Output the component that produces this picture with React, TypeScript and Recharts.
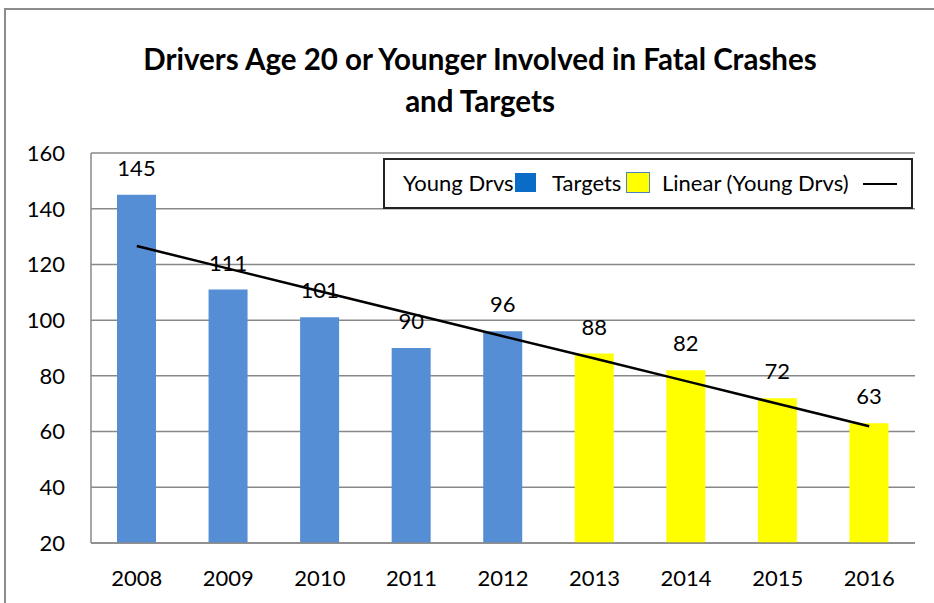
import React from 'react';
import { ComposedChart, Bar, Line, XAxis, YAxis, CartesianGrid, LabelList } from 'recharts';

const years = ['2008', '2009', '2010', '2011', '2012', '2013', '2014', '2015', '2016'];
const youngDrvs = [145, 111, 101, 90, 96, null, null, null, null];
const targets = [null, null, null, null, null, 88, 82, 72, 63];
// trend line values (Excel linear trendline)
const trendValues = [126.6, 118.5, 110.4, 102.3, 94.2, 86.2, 78.1, 70.0, 61.9];
const yTicks = [20, 40, 60, 80, 100, 120, 140, 160];

const titleLines = ['Drivers Age 20 or Younger Involved in Fatal Crashes', 'and Targets'];

const FONT = 'Lato, "Open Sans", sans-serif';
const BAR_BLUE = '#558ED5';
const LEGEND_BLUE = '#0A6CC6';
const YELLOW = '#FFFF00';
const GRID = '#888888';

const data = years.map((year, i) => ({
  year,
  youngDrvs: youngDrvs[i],
  targets: targets[i],
  trend: trendValues[i],
}));

const Legend: React.FC = () => (
  <div
    style={{
      position: 'absolute',
      left: 383,
      top: 158,
      width: 526,
      height: 47,
      border: '2px solid #222',
      background: '#fff',
      fontFamily: FONT,
      fontSize: 22,
      color: '#000',
    }}
  >
    <span style={{ position: 'absolute', left: 18, top: 9 }}>Young Drvs</span>
    <span style={{ position: 'absolute', left: 130, top: 13, width: 21, height: 19, background: LEGEND_BLUE }} />
    <span style={{ position: 'absolute', left: 167, top: 9 }}>Targets</span>
    <span
      style={{
        position: 'absolute',
        left: 241,
        top: 12,
        width: 22,
        height: 19,
        background: YELLOW,
        border: '1.5px solid #4F81BD',
      }}
    />
    <span style={{ position: 'absolute', left: 277, top: 9 }}>Linear (Young Drvs)</span>
    <span style={{ position: 'absolute', left: 478, top: 23, width: 34, height: 2, background: '#000' }} />
  </div>
);

const App: React.FC = () => {
  return (
    <div style={{ position: 'absolute', left: 0, top: 0, width: 934, height: 603, background: '#fff' }}>
      <div
        style={{
          position: 'absolute',
          left: 4,
          top: 8,
          width: 940,
          height: 600,
          borderLeft: '2px solid #8c8c8c',
          borderTop: '2px solid #8c8c8c',
        }}
      />
      <div
        style={{
          position: 'absolute',
          left: 0,
          top: 38,
          width: 960,
          textAlign: 'center',
          fontFamily: FONT,
          fontWeight: 700,
          fontSize: 29.5,
          lineHeight: '42px',
          color: '#000',
        }}
      >
        {titleLines.map((t) => (
          <div key={t}>{t}</div>
        ))}
      </div>
      <ComposedChart
        width={934}
        height={603}
        data={data}
        margin={{ top: 153, right: 19, left: 0, bottom: 0 }}
        barSize={39}
        style={{ position: 'absolute', left: 0, top: 0 }}
      >
        <CartesianGrid vertical={false} stroke={GRID} strokeWidth={1.5} />
        <XAxis
          dataKey="year"
          height={60}
          tickSize={0}
          tickMargin={27}
          axisLine={{ stroke: GRID, strokeWidth: 1.5 }}
          tick={{ fill: '#000', fontSize: 22, fontFamily: FONT }}
        />
        <YAxis
          width={91}
          domain={[20, 160]}
          allowDataOverflow
          ticks={yTicks}
          interval={0}
          tickSize={0}
          tickMargin={26}
          axisLine={{ stroke: GRID, strokeWidth: 1.5 }}
          tick={{ fill: '#000', fontSize: 22, fontFamily: FONT }}
        />
        <Bar dataKey="youngDrvs" stackId="a" fill={BAR_BLUE} isAnimationActive={false}>
          <LabelList dataKey="youngDrvs" position="top" offset={19} fill="#000" fontSize={22} fontFamily={FONT} />
        </Bar>
        <Bar dataKey="targets" stackId="a" fill={YELLOW} isAnimationActive={false}>
          <LabelList dataKey="targets" position="top" offset={19} fill="#000" fontSize={22} fontFamily={FONT} />
        </Bar>
        <Line
          dataKey="trend"
          stroke="#000"
          strokeWidth={2.5}
          dot={false}
          activeDot={false}
          isAnimationActive={false}
        />
      </ComposedChart>
      <Legend />
    </div>
  );
};

export default App;
